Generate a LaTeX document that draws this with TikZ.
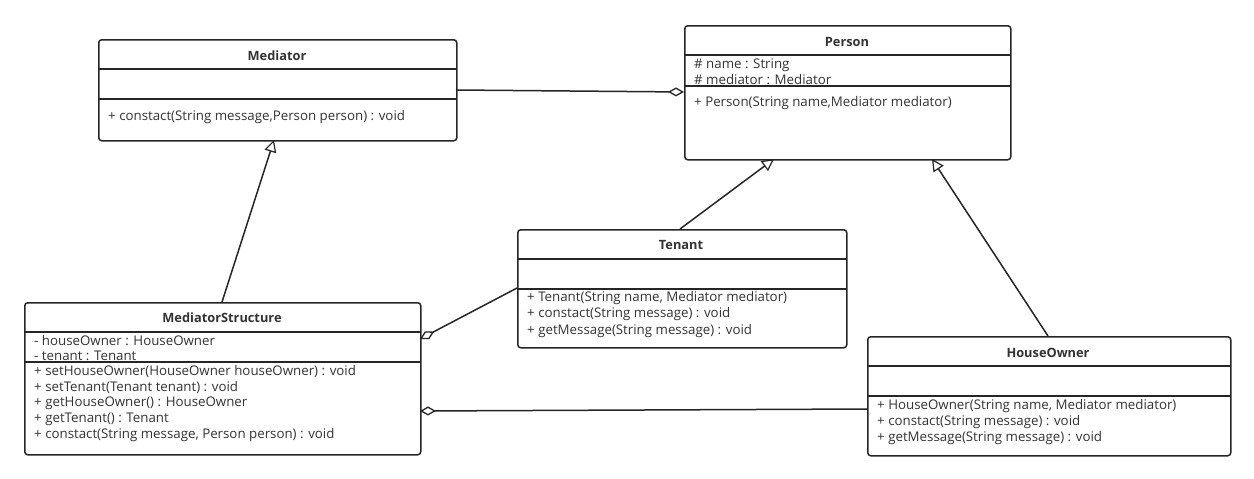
\documentclass[tikz,border=0pt]{standalone}
\usepackage{fontspec}
\setmainfont{Open Sans}
\usetikzlibrary{arrows.meta}
\begin{document}
\begin{tikzpicture}[x=1pt,y=-1pt,
  cls/.style={draw=black!85, line width=1.5pt, rounded corners=3pt, anchor=north west, inner sep=0pt},
  sep/.style={draw=black!85, line width=1.5pt},
  hd/.style={font=\fontsize{12.8}{14}\selectfont\bfseries, text=black!80, inner sep=0pt},
  it/.style={font=\fontsize{13.3}{14}\selectfont, text=black!80, anchor=west, inner sep=0pt},
  conn/.style={draw=black!85, line width=1.5pt},
  gen/.style={conn, -{Triangle[open, length=12pt, width=12pt, line width=1.2pt]}},
  agg/.style={conn, -{Diamond[open, length=16pt, width=9pt, line width=1.3pt]}}]
\useasboundingbox[fill=white] (0,0) rectangle (1254,479);

% Mediator
\node[cls, minimum width=358pt, minimum height=101pt] (med) at (98,39) {};
\draw[sep] (98,69) -- (456,69);
\draw[sep] (98,99) -- (456,99);
\node[hd] (medh) at (277,56) {Mediator};
\node[it] (medm1) at (108,117) {+ constact(String message,Person person) : void};

% Person
\node[cls, minimum width=326pt, minimum height=134pt] (per) at (684,25) {};
\draw[sep] (684,55) -- (1010,55);
\draw[sep] (684,86) -- (1010,86);
\node[hd] (perh) at (847,42) {Person};
\node[it] (pera1) at (694,65) {\# name : String};
\node[it] (pera2) at (694,80) {\# mediator : Mediator};
\node[it] (perm1) at (694,103) {+ Person(String name,Mediator mediator)};

% MediatorStructure
\node[cls, minimum width=396pt, minimum height=152pt] (ms) at (24,302) {};
\draw[sep] (24,332) -- (420,332);
\draw[sep] (24,362) -- (420,362);
\node[hd] (msh) at (222,318) {MediatorStructure};
\node[it] (msa1) at (34,341) {- houseOwner : HouseOwner};
\node[it] (msa2) at (34,356) {- tenant : Tenant};
\node[it] (msm1) at (34,371) {+ setHouseOwner(HouseOwner houseOwner) : void};
\node[it] (msm2) at (34,387) {+ setTenant(Tenant tenant) : void};
\node[it] (msm3) at (34,403) {+ getHouseOwner() : HouseOwner};
\node[it] (msm4) at (34,419) {+ getTenant() : Tenant};
\node[it] (msm5) at (34,435) {+ constact(String message, Person person) : void};

% Tenant
\node[cls, minimum width=329pt, minimum height=118pt] (ten) at (517,229) {};
\draw[sep] (517,259) -- (846,259);
\draw[sep] (517,289) -- (846,289);
\node[hd] (tenh) at (681,245) {Tenant};
\node[it] (tenm1) at (527,298) {+ Tenant(String name, Mediator mediator)};
\node[it] (tenm2) at (527,314) {+ constact(String message) : void};
\node[it] (tenm3) at (527,331) {+ getMessage(String message) : void};

% HouseOwner
\node[cls, minimum width=363pt, minimum height=119pt] (ho) at (867,336) {};
\draw[sep] (867,366) -- (1230,366);
\draw[sep] (867,396) -- (1230,396);
\node[hd] (hoh) at (1048,353) {HouseOwner};
\node[it] (hom1) at (877,406) {+ HouseOwner(String name, Mediator mediator)};
\node[it] (hom2) at (877,422) {+ constact(String message) : void};
\node[it] (hom3) at (877,438) {+ getMessage(String message) : void};

% connectors
\coordinate (medR) at (456,90);
\coordinate (perL) at (684,92);
\draw[agg] (medR) -- (perL);
\coordinate (msT) at (222,302);
\coordinate (medB) at (274,140);
\draw[gen] (msT) -- (medB);
\coordinate (tenT) at (680,229);
\coordinate (perB1) at (774,159);
\draw[gen] (tenT) -- (perB1);
\coordinate (hoT) at (1048,336);
\coordinate (perB2) at (932,159);
\draw[gen] (hoT) -- (perB2);
\coordinate (tenL) at (517,288);
\coordinate (msR1) at (420,339);
\draw[agg] (tenL) -- (msR1);
\coordinate (hoL) at (867,409);
\coordinate (msR2) at (420,411);
\draw[agg] (hoL) -- (msR2);
\end{tikzpicture}
\end{document}
